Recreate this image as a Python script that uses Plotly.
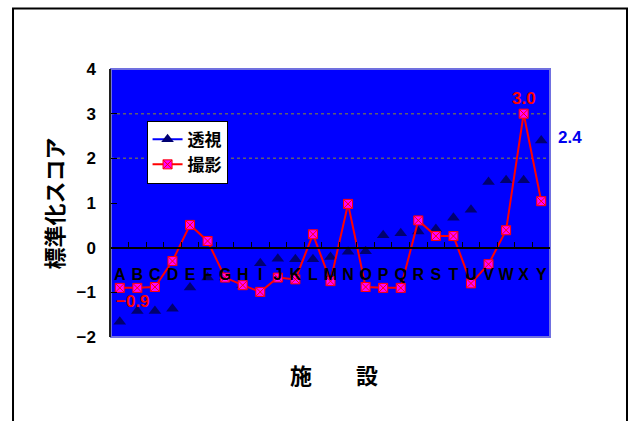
import plotly.graph_objects as go

# 施設ごとの標準化スコア
facilities = list("ABCDEFGHIJKLMNOPQRSTUVWXY")
toushi = [-1.66, -1.42, -1.42, -1.37, -0.89, -0.67, -0.67, -0.84, -0.35, -0.25,
          -0.26, -0.26, -0.21, -0.09, -0.08, 0.28, 0.32, 0.36, 0.42, 0.67,
          0.85, 1.47, 1.51, 1.51, 2.4]
satsuei = [-0.9, -0.90, -0.88, -0.30, 0.51, 0.15, -0.67, -0.84, -0.99, -0.67,
           -0.71, 0.30, -0.75, 0.98, -0.88, -0.90, -0.90, 0.61, 0.26, 0.26,
           -0.80, -0.37, 0.39, 3.0, 1.04]
y_ticks = [-2, -1, 0, 1, 2, 3, 4]
grid_levels = [2, 3, 4]

FONT = "Liberation Sans, Arial, 'Noto Sans CJK JP', sans-serif"
JP_FONT = "'Noto Sans CJK JP', 'Liberation Sans', sans-serif"


def fmt(v):
    return f"{v:.1f}".replace("-", "\u2212")


fig = go.Figure()

fig.add_trace(go.Scatter(
    x=facilities, y=toushi, name="透視", mode="lines+markers",
    line=dict(color="#0000FF", width=2),
    marker=dict(symbol="triangle-up", size=11, color="#000070",
                line=dict(width=0)),
))
fig.add_trace(go.Scatter(
    x=facilities, y=satsuei, name="撮影", mode="lines+markers",
    line=dict(color="#FF0000", width=2),
    marker=dict(symbol="square-x", size=9, color="#FF00FF",
                line=dict(color="#FF0000", width=1)),
))

# dotted horizontal grid
for g in grid_levels:
    fig.add_shape(type="line", xref="paper", yref="y", x0=0, x1=1, y0=g, y1=g,
                  line=dict(color="#606070", width=1.5, dash="dot"), layer="below")

# plot-area edge
fig.add_shape(type="rect", xref="paper", yref="paper", x0=0, x1=1, y0=0, y1=1,
              line=dict(color="#7070E0", width=2), layer="below")
# outer frame
fig.add_shape(type="rect", xref="paper", yref="paper",
              x0=-0.2232, x1=1.1754, y0=-0.36, y1=1.226,
              line=dict(color="#000000", width=2))

# value labels
iA = 0
iX = facilities.index("X")
iY = facilities.index("Y")
fig.add_annotation(x=facilities[iA], y=satsuei[iA], text=fmt(satsuei[iA]),
                   showarrow=False, xshift=13, yshift=-14,
                   font=dict(family=FONT, size=17, color="#FF0000", weight="bold"))
fig.add_annotation(x=facilities[iX], y=satsuei[iX], text=fmt(satsuei[iX]),
                   showarrow=False, yshift=15,
                   font=dict(family=FONT, size=17, color="#FF0000", weight="bold"))
fig.add_annotation(x=facilities[iY], y=toushi[iY], text=fmt(toushi[iY]),
                   showarrow=False, xshift=29, yshift=3,
                   font=dict(family=FONT, size=17, color="#0000EE", weight="bold"))

# axis titles
fig.add_annotation(xref="paper", yref="paper", x=0.508, y=-0.205,
                   text="施\u3000\u3000設", showarrow=False,
                   font=dict(family=JP_FONT, size=22, color="#000000", weight="bold"))
fig.add_annotation(xref="paper", yref="paper", x=-0.172, y=0.5,
                   text="標準化スコア", showarrow=False, textangle=-90,
                   font=dict(family=JP_FONT, size=22, color="#000000", weight="bold"))

fig.update_layout(
    width=632, height=421,
    margin=dict(l=111, r=82, t=69, b=84),
    paper_bgcolor="#FFFFFF",
    plot_bgcolor="#0000FF",
    showlegend=True,
    legend=dict(x=0.081, y=0.807, xanchor="left", yanchor="top",
                bgcolor="#FFFFFF", bordercolor="#000000", borderwidth=1,
                font=dict(family=JP_FONT, size=17, color="#000000", weight="bold"),
                itemwidth=30, tracegroupgap=0),
    xaxis=dict(
        type="category", categoryorder="array", categoryarray=facilities,
        range=[-0.5, len(facilities) - 0.5],
        tickmode="array", tickvals=facilities, ticktext=facilities,
        tickangle=0,
        anchor="free", position=1 / 3,
        showline=True, linecolor="#000000", linewidth=1.5,
        ticks="inside", tickson="boundaries", ticklen=5, tickcolor="#000000",
        tickfont=dict(family=FONT, size=16, color="#000000", weight="bold"),
        ticklabelstandoff=12,
        showgrid=False, zeroline=False,
    ),
    yaxis=dict(
        range=[-2, 4], tickvals=y_ticks,
        showline=True, linecolor="#202020", linewidth=1.5,
        ticks="inside", ticklen=6, tickcolor="#000000",
        tickfont=dict(family=FONT, size=17, color="#000000", weight="bold"),
        ticklabelstandoff=10,
        showgrid=False, zeroline=False,
    ),
)

fig.write_html("out.html")
